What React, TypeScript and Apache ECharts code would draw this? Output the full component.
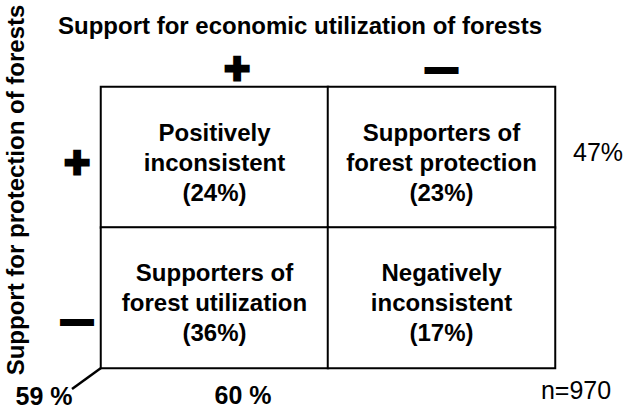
import React, { useEffect, useRef } from "react";
import * as echarts from "echarts";

// Levels of support (columns: economic utilization, rows: forest protection)
const utilizationLevels = ["+", "—"];
const protectionLevels = ["+", "—"];

// Quadrants: [column index, row index]
const cellPositions = [
  [0, 0],
  [1, 0],
  [0, 1],
  [1, 1],
];
const cellNames = [
  "Positively\ninconsistent",
  "Supporters of\nforest protection",
  "Supporters of\nforest utilization",
  "Negatively\ninconsistent",
];
const cellShares = [24, 23, 36, 17];

const protectionSupportTotal = "47%";
const utilizationSupportTotal = "60 %";
const consistentTotal = "59 %";
const sampleSize = "n=970";

const titleTop = "Support for economic utilization of forests";
const titleLeft = "Support for protection of forests";

const FONT = "'Liberation Sans', Arial, Helvetica, sans-serif";

export default function App() {
  const ref = useRef<HTMLDivElement>(null);

  useEffect(() => {
    if (!ref.current) return;
    const chart = echarts.init(ref.current, undefined, { renderer: "svg" });

    const signStyle = (size: number, border: number) => ({
      fontSize: size,
      fontWeight: "bold" as const,
      fontFamily: FONT,
      color: "#000",
      textBorderColor: "#000",
      textBorderWidth: border,
    });

    chart.setOption({
      animation: false,
      backgroundColor: "#fff",
      grid: { left: 101, right: 72, top: 87, bottom: 43 },
      visualMap: {
        show: false,
        min: 0,
        max: 100,
        inRange: { color: ["#ffffff", "#ffffff"] },
      },
      xAxis: {
        type: "category",
        position: "top",
        data: utilizationLevels,
        axisLine: { show: false },
        axisTick: { show: false },
        splitLine: { show: false },
        axisLabel: {
          margin: 19,
          verticalAlign: "middle",
          formatter: (v: string, i: number) => (i === 0 ? `{p|${v}}` : `{m|${v}}`),
          rich: {
            p: { ...signStyle(44, 3), padding: [0, 0, 0, 45] },
            m: { ...signStyle(30, 4) },
          },
        },
      },
      yAxis: {
        type: "category",
        inverse: true,
        data: protectionLevels,
        axisLine: { show: false },
        axisTick: { show: false },
        splitLine: { show: false },
        axisLabel: {
          margin: 24,
          align: "center",
          verticalAlign: "middle",
          formatter: (v: string, i: number) => (i === 0 ? `{p|${v}}` : `{m|${v}}`),
          rich: {
            p: { ...signStyle(44, 3), padding: [10, 0, 0, 0] },
            m: { ...signStyle(30, 4), padding: [46, 0, 0, 0] },
          },
        },
      },
      series: [
        {
          type: "heatmap",
          data: cellPositions.map((p, i) => [p[0], p[1], cellShares[i]]),
          itemStyle: { color: "#fff", borderColor: "#000", borderWidth: 2 },
          emphasis: { disabled: true },
          label: {
            show: true,
            formatter: (p: any) => `${cellNames[p.dataIndex]}\n(${cellShares[p.dataIndex]}%)`,
            fontSize: 24,
            fontWeight: "bold",
            fontFamily: FONT,
            lineHeight: 30,
            color: "#000",
            offset: [0, 5],
          },
        },
      ],
      graphic: [
        {
          type: "text",
          x: 300,
          y: 25,
          style: {
            text: titleTop,
            fontSize: 24,
            fontWeight: "bold",
            fontFamily: FONT,
            fill: "#000",
            align: "center",
            verticalAlign: "middle",
          },
        },
        {
          type: "text",
          x: 15,
          y: 190,
          rotation: Math.PI / 2,
          style: {
            text: titleLeft,
            fontSize: 24,
            fontWeight: "bold",
            fontFamily: FONT,
            fill: "#000",
            align: "center",
            verticalAlign: "middle",
          },
        },
        {
          type: "text",
          x: 598,
          y: 152,
          style: {
            text: protectionSupportTotal,
            fontSize: 25,
            fontFamily: FONT,
            fill: "#000",
            align: "center",
            verticalAlign: "middle",
          },
        },
        {
          type: "text",
          x: 576,
          y: 390,
          style: {
            text: sampleSize,
            fontSize: 25,
            fontFamily: FONT,
            fill: "#000",
            align: "center",
            verticalAlign: "middle",
          },
        },
        {
          type: "text",
          x: 243,
          y: 395,
          style: {
            text: utilizationSupportTotal,
            fontSize: 25,
            fontWeight: "bold",
            fontFamily: FONT,
            fill: "#000",
            align: "center",
            verticalAlign: "middle",
          },
        },
        {
          type: "text",
          x: 44,
          y: 396,
          style: {
            text: consistentTotal,
            fontSize: 25,
            fontWeight: "bold",
            fontFamily: FONT,
            fill: "#000",
            align: "center",
            verticalAlign: "middle",
          },
        },
        {
          type: "line",
          shape: { x1: 101, y1: 368, x2: 72, y2: 389 },
          style: { stroke: "#000", lineWidth: 2.5 },
        },
      ],
    });

    return () => chart.dispose();
  }, []);

  return (
    <div
      ref={ref}
      style={{ position: "fixed", left: 0, top: 0, width: 627, height: 411, background: "#fff" }}
    />
  );
}
